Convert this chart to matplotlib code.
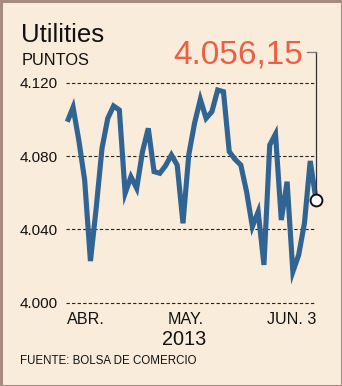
import matplotlib
matplotlib.use("Agg")
import matplotlib.pyplot as plt
from matplotlib.patches import Rectangle
from matplotlib.lines import Line2D

# Daily closing values of the utilities index (points), April 1 - June 3, 2013
values = [4098.7, 4106.6, 4088.4, 4066.9, 4022.7, 4051.7, 4084.2, 4100.6,
          4107.3, 4105.1, 4059.7, 4068.7, 4062.4, 4082.4, 4095.1, 4071.5,
          4070.6, 4074.8, 4080.6, 4075.1, 4043.3, 4080.6, 4097.9, 4110.9,
          4100.6, 4104.2, 4116.0, 4115.1, 4082.4, 4078.2, 4075.1, 4060.5,
          4041.5, 4049.6, 4020.6, 4086.0, 4092.0, 4045.1, 4066.0, 4016.9,
          4026.0, 4043.3, 4077.3, 4056.15]
days = list(range(len(values)))

y_ticks = [4000, 4040, 4080, 4120]
y_tick_labels = ["4.000", "4.040", "4.080", "4.120"]
x_tick_pos = [0, 20.5, 43]
x_tick_labels = ["ABR.", "MAY.", "JUN. 3"]

title = "Utilities"
unit = "PUNTOS"
last_label = "4.056,15"
year = "2013"
source = "FUENTE: BOLSA DE COMERCIO"

W, H = 342, 386
BG = "#f9ecda"
LINE = "#2f6493"
RED = "#ec5f43"

plt.rcParams["font.family"] = ["Liberation Sans", "DejaVu Sans"]
NARROW = ["Liberation Sans Narrow", "DejaVu Sans Condensed", "Liberation Sans"]

fig = plt.figure(figsize=(W / 100, H / 100), dpi=100)
fig.patch.set_facecolor(BG)

# frame around the graphic
fig.patches.append(Rectangle((0.5 / W, 0.5 / H), 1 - 1.0 / W, 1 - 1.0 / H,
                             transform=fig.transFigure, fill=False,
                             edgecolor="#a48d80", linewidth=2.2))


def px(x, y):
    return x / W, 1 - y / H


# plotting area in pixels: left 66, right 316, top 82.7 (4.120), bottom 302.7 (4.000)
left, right, top, bottom = 66, 316, 82.7, 302.7
ax = fig.add_axes([left / W, (H - bottom) / H, (right - left) / W, (bottom - top) / H])
ax.set_facecolor("none")
x_step = (316 - 67.3) / (len(values) - 1)
ax.set_xlim(-(67.3 - left) / x_step, len(values) - 1)
ax.set_ylim(4000, 4120)
for s in ax.spines.values():
    s.set_visible(False)

for yv in y_ticks:
    ax.axhline(yv, color="#222222", lw=0.8, ls=(0, (3, 2)), zorder=1, clip_on=False)

ax.plot(days, values, color=LINE, lw=3.7, solid_joinstyle="miter",
        solid_capstyle="butt", zorder=3, clip_on=False)

ax.set_yticks(y_ticks)
ax.set_yticklabels(y_tick_labels, fontsize=11, color="#111111")
ax.tick_params(axis="y", length=0, pad=6)

ax.set_xticks(x_tick_pos)
ax.set_xticklabels(x_tick_labels, fontsize=11.6, color="#111111", family=NARROW)
ax.tick_params(axis="x", length=0, pad=7)
for lab, ha in zip(ax.get_xticklabels(), ["left", "center", "right"]):
    lab.set_ha(ha)

# pointer from the last value label to the last point
last_x, last_y = days[-1], values[-1]
ax.plot([last_x, last_x], [last_y, 4120 + (82.7 - 52) / 220 * 120],
        color="#333333", lw=0.9, zorder=4, clip_on=False)
fig.add_artist(Line2D([306.5 / W, 316 / W], [1 - 52 / H, 1 - 52 / H],
                      color="#777777", lw=0.9))
ax.plot([last_x], [last_y], marker="o", ms=8.5, mfc="white", mec="#111111",
        mew=1.4, zorder=5, clip_on=False)

fig.text(*px(21, 41.5), title, fontsize=18.5, color="#111111", va="baseline", ha="left")
fig.text(*px(22, 65), unit, fontsize=11.8, color="#111111", va="baseline", ha="left",
         family=NARROW)
fig.text(*px(303, 63.5), last_label, fontsize=24, color=RED, va="baseline", ha="right")
fig.text(*px(184, 345), year, fontsize=14.3, color="#111111", va="baseline", ha="center")
fig.text(*px(20, 364.3), source, fontsize=8.3, color="#111111", va="baseline", ha="left",
         family=NARROW)

fig.savefig("out.png", dpi=100, facecolor=BG)
